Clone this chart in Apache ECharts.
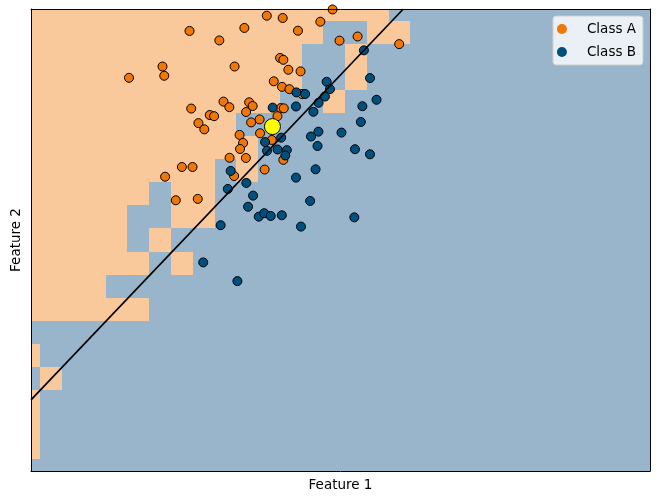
<!DOCTYPE html>
<html>
<head>
<meta charset="utf-8">
<script src="https://cdn.jsdelivr.net/npm/echarts@6/dist/echarts.min.js"></script>
<style>
html,body{margin:0;padding:0;background:#fff;}
#chart{width:659px;height:501px;}
</style>
</head>
<body>
<div id="chart"></div>
<script>
// Decision-region grid: rows from top (y=20) to bottom (y=0); columns x=-1..27 (cell spans [x, x+1])
const regionRows = [
  "AAAAAAAAAAAAAAAAABBBBBBBBBBBB",
  "AAAAAAAAAAAAAABBAABBBBBBBBBBB",
  "AAAAAAAAAAAAABBABBBBBBBBBBBBB",
  "AAAAAAAAAAAAABBABBBBBBBBBBBBB",
  "AAAAAAAAAAAABBABBBBBBBBBBBBBB",
  "AAAAAAAAAABBBBBBBBBBBBBBBBBBB",
  "AAAAAAAAAAABBBBBBBBBBBBBBBBBB",
  "AAAAAAAAABABBBBBBBBBBBBBBBBBB",
  "AAAAAABAABBBBBBBBBBBBBBBBBBBB",
  "AAAAABBAABBBBBBBBBBBBBBBBBBBB",
  "AAAAABABBBBBBBBBBBBBBBBBBBBBB",
  "AAAAAABABBBBBBBBBBBBBBBBBBBBB",
  "AAAABBBBBBBBBBBBBBBBBBBBBBBBB",
  "AAAAAABBBBBBBBBBBBBBBBBBBBBBB",
  "BBBBBBBBBBBBBBBBBBBBBBBBBBBBB",
  "ABBBBBBBBBBBBBBBBBBBBBBBBBBBB",
  "BABBBBBBBBBBBBBBBBBBBBBBBBBBB",
  "ABBBBBBBBBBBBBBBBBBBBBBBBBBBB",
  "ABBBBBBBBBBBBBBBBBBBBBBBBBBBB",
  "ABBBBBBBBBBBBBBBBBBBBBBBBBBBB",
  "BBBBBBBBBBBBBBBBBBBBBBBBBBBBB"
];
const regionTopY = 20;
const regionFirstX = -1;

const classA_x = [10.40,11.13,13.42,12.86,9.37,6.85,11.83,14.57,13.74,8.22,16.48,11.01,11.16,11.39,11.95,8.92,5.61,5.69,4.07,10.72,11.10,11.44,12.02,8.41,8.68,9.59,9.75,9.45,6.93,7.78,7.98,7.26,7.53,11.04,11.18,10.89,10.07,9.68,10.09,9.15,9.31,9.17,8.69,9.44,10.63,11.16,10.30,6.50,6.99,5.73,8.90,6.22,7.23];
const classA_y = [19.71,19.61,19.98,19.45,19.18,19.05,19.06,18.81,18.63,18.64,18.48,17.88,17.80,17.37,17.30,17.51,17.51,17.11,17.02,16.87,16.63,16.53,16.32,15.99,15.75,15.96,15.80,15.54,15.69,15.41,15.36,15.06,14.79,15.71,15.70,15.36,15.22,15.09,14.62,14.55,14.20,13.94,13.56,13.55,14.33,13.47,13.05,13.16,13.16,12.74,12.77,11.72,11.78];

const classB_x = [14.86,15.14,13.15,13.30,13.07,12.78,15.44,14.79,12.54,11.74,11.76,12.16,10.67,14.72,13.83,12.77,12.43,12.73,14.45,15.14,11.06,10.32,10.41,10.89,11.32,11.25,12.64,11.74,8.74,9.46,8.61,9.77,9.54,12.39,10.03,10.28,10.58,11.09,8.28,11.97,14.42,7.48,9.05];
const classB_y = [18.21,17.01,16.85,16.53,16.21,15.94,16.07,15.79,15.55,15.78,16.39,16.32,15.73,15.11,14.65,14.69,14.48,14.07,13.93,13.71,14.43,14.24,13.86,13.92,13.89,13.66,13.06,12.70,12.99,12.47,12.21,11.92,11.44,11.69,11.01,11.16,11.04,11.07,10.64,10.58,10.98,9.03,8.22];

const queryPoint = [10.66, 14.91];
const boundaryX = [-0.43, 16.67];
const boundaryY = [3.08, 20.0];

const xRange = [-0.43, 28];
const yRange = [0, 20];

const seriesNames = ['Class A', 'Class B'];
const axisNames = ['Feature 1', 'Feature 2'];

const colA = '#F07606';
const colB = '#00507F';
const bgA = '#F9C89B';
const bgB = '#98B5CB';
const FONT = 'DejaVu Sans';

const cells = [];
regionRows.forEach(function (row, r) {
  for (let k = 0; k < row.length; k++) {
    cells.push([regionFirstX + k, regionTopY - r, row[k] === 'A' ? 0 : 1]);
  }
});
const ptsA = classA_x.map(function (v, i) { return [v, classA_y[i]]; });
const ptsB = classB_x.map(function (v, i) { return [v, classB_y[i]]; });
const linePts = boundaryX.map(function (v, i) { return [v, boundaryY[i]]; });

const chart = echarts.init(document.getElementById('chart'), null, {renderer: 'canvas'});

function hiddenAxisBase(extra) {
  return Object.assign({
    type: 'value',
    axisTick: {show: false},
    axisLabel: {show: false},
    splitLine: {show: false},
    axisLine: {show: true, onZero: false, lineStyle: {color: '#000', width: 1}},
    z: 10
  }, extra);
}

chart.setOption({
  animation: false,
  backgroundColor: '#fff',
  grid: {left: 31, right: 9, top: 9, bottom: 30},
  xAxis: [
    hiddenAxisBase({min: xRange[0], max: xRange[1], position: 'bottom',
      name: axisNames[0], nameLocation: 'middle', nameGap: 7,
      nameTextStyle: {fontSize: 13.5, color: '#000', fontFamily: FONT}}),
    hiddenAxisBase({min: xRange[0], max: xRange[1], position: 'top'})
  ],
  yAxis: [
    hiddenAxisBase({min: yRange[0], max: yRange[1], position: 'left',
      name: axisNames[1], nameLocation: 'middle', nameGap: 8, nameRotate: 90,
      nameTextStyle: {fontSize: 13.5, color: '#000', fontFamily: FONT}}),
    hiddenAxisBase({min: yRange[0], max: yRange[1], position: 'right'})
  ],
  legend: {
    data: seriesNames,
    orient: 'vertical',
    right: 16, top: 16,
    icon: 'circle',
    itemWidth: 32, itemHeight: 10,
    itemGap: 9,
    padding: [6, 7, 6, 4],
    backgroundColor: 'rgba(255,255,255,0.8)',
    borderColor: '#cccccc', borderWidth: 1, borderRadius: 3,
    textStyle: {fontSize: 13.5, color: '#000', fontFamily: FONT, padding: [0, 0, 0, 4]},
    itemStyle: {borderWidth: 0},
    z: 20
  },
  series: [
    {
      type: 'custom',
      silent: true,
      xAxisIndex: 0, yAxisIndex: 0,
      encode: {x: 0, y: 1},
      data: cells,
      z: 1,
      renderItem: function (params, api) {
        const i = api.value(0), j = api.value(1), c = api.value(2);
        const p0 = api.coord([i, j + 0.5]);
        const p1 = api.coord([i + 1, j - 0.5]);
        const x0 = Math.round(p0[0]), y0 = Math.round(p0[1]);
        const x1 = Math.round(p1[0]), y1 = Math.round(p1[1]);
        const cs = params.coordSys;
        const rect = echarts.graphic.clipRectByRect(
          {x: x0, y: y0, width: x1 - x0, height: y1 - y0},
          {x: cs.x, y: cs.y, width: cs.width, height: cs.height});
        if (!rect) return null;
        return {type: 'rect', shape: rect, style: {fill: c === 0 ? bgA : bgB}};
      }
    },
    {
      name: seriesNames[0], type: 'scatter', data: ptsA, symbol: 'circle', symbolSize: 9,
      itemStyle: {color: colA, borderColor: '#000', borderWidth: 1, opacity: 1}, z: 3
    },
    {
      name: seriesNames[1], type: 'scatter', data: ptsB, symbol: 'circle', symbolSize: 9,
      itemStyle: {color: colB, borderColor: '#000', borderWidth: 1, opacity: 1}, z: 3
    },
    {
      type: 'line', data: linePts, symbol: 'none', silent: true,
      lineStyle: {color: '#000', width: 1.7}, z: 4
    },
    {
      type: 'scatter', data: [queryPoint], symbol: 'circle', symbolSize: 16,
      itemStyle: {color: '#FFFF00', borderColor: '#000', borderWidth: 1, opacity: 1}, z: 5
    }
  ]
});
</script>
</body>
</html>
